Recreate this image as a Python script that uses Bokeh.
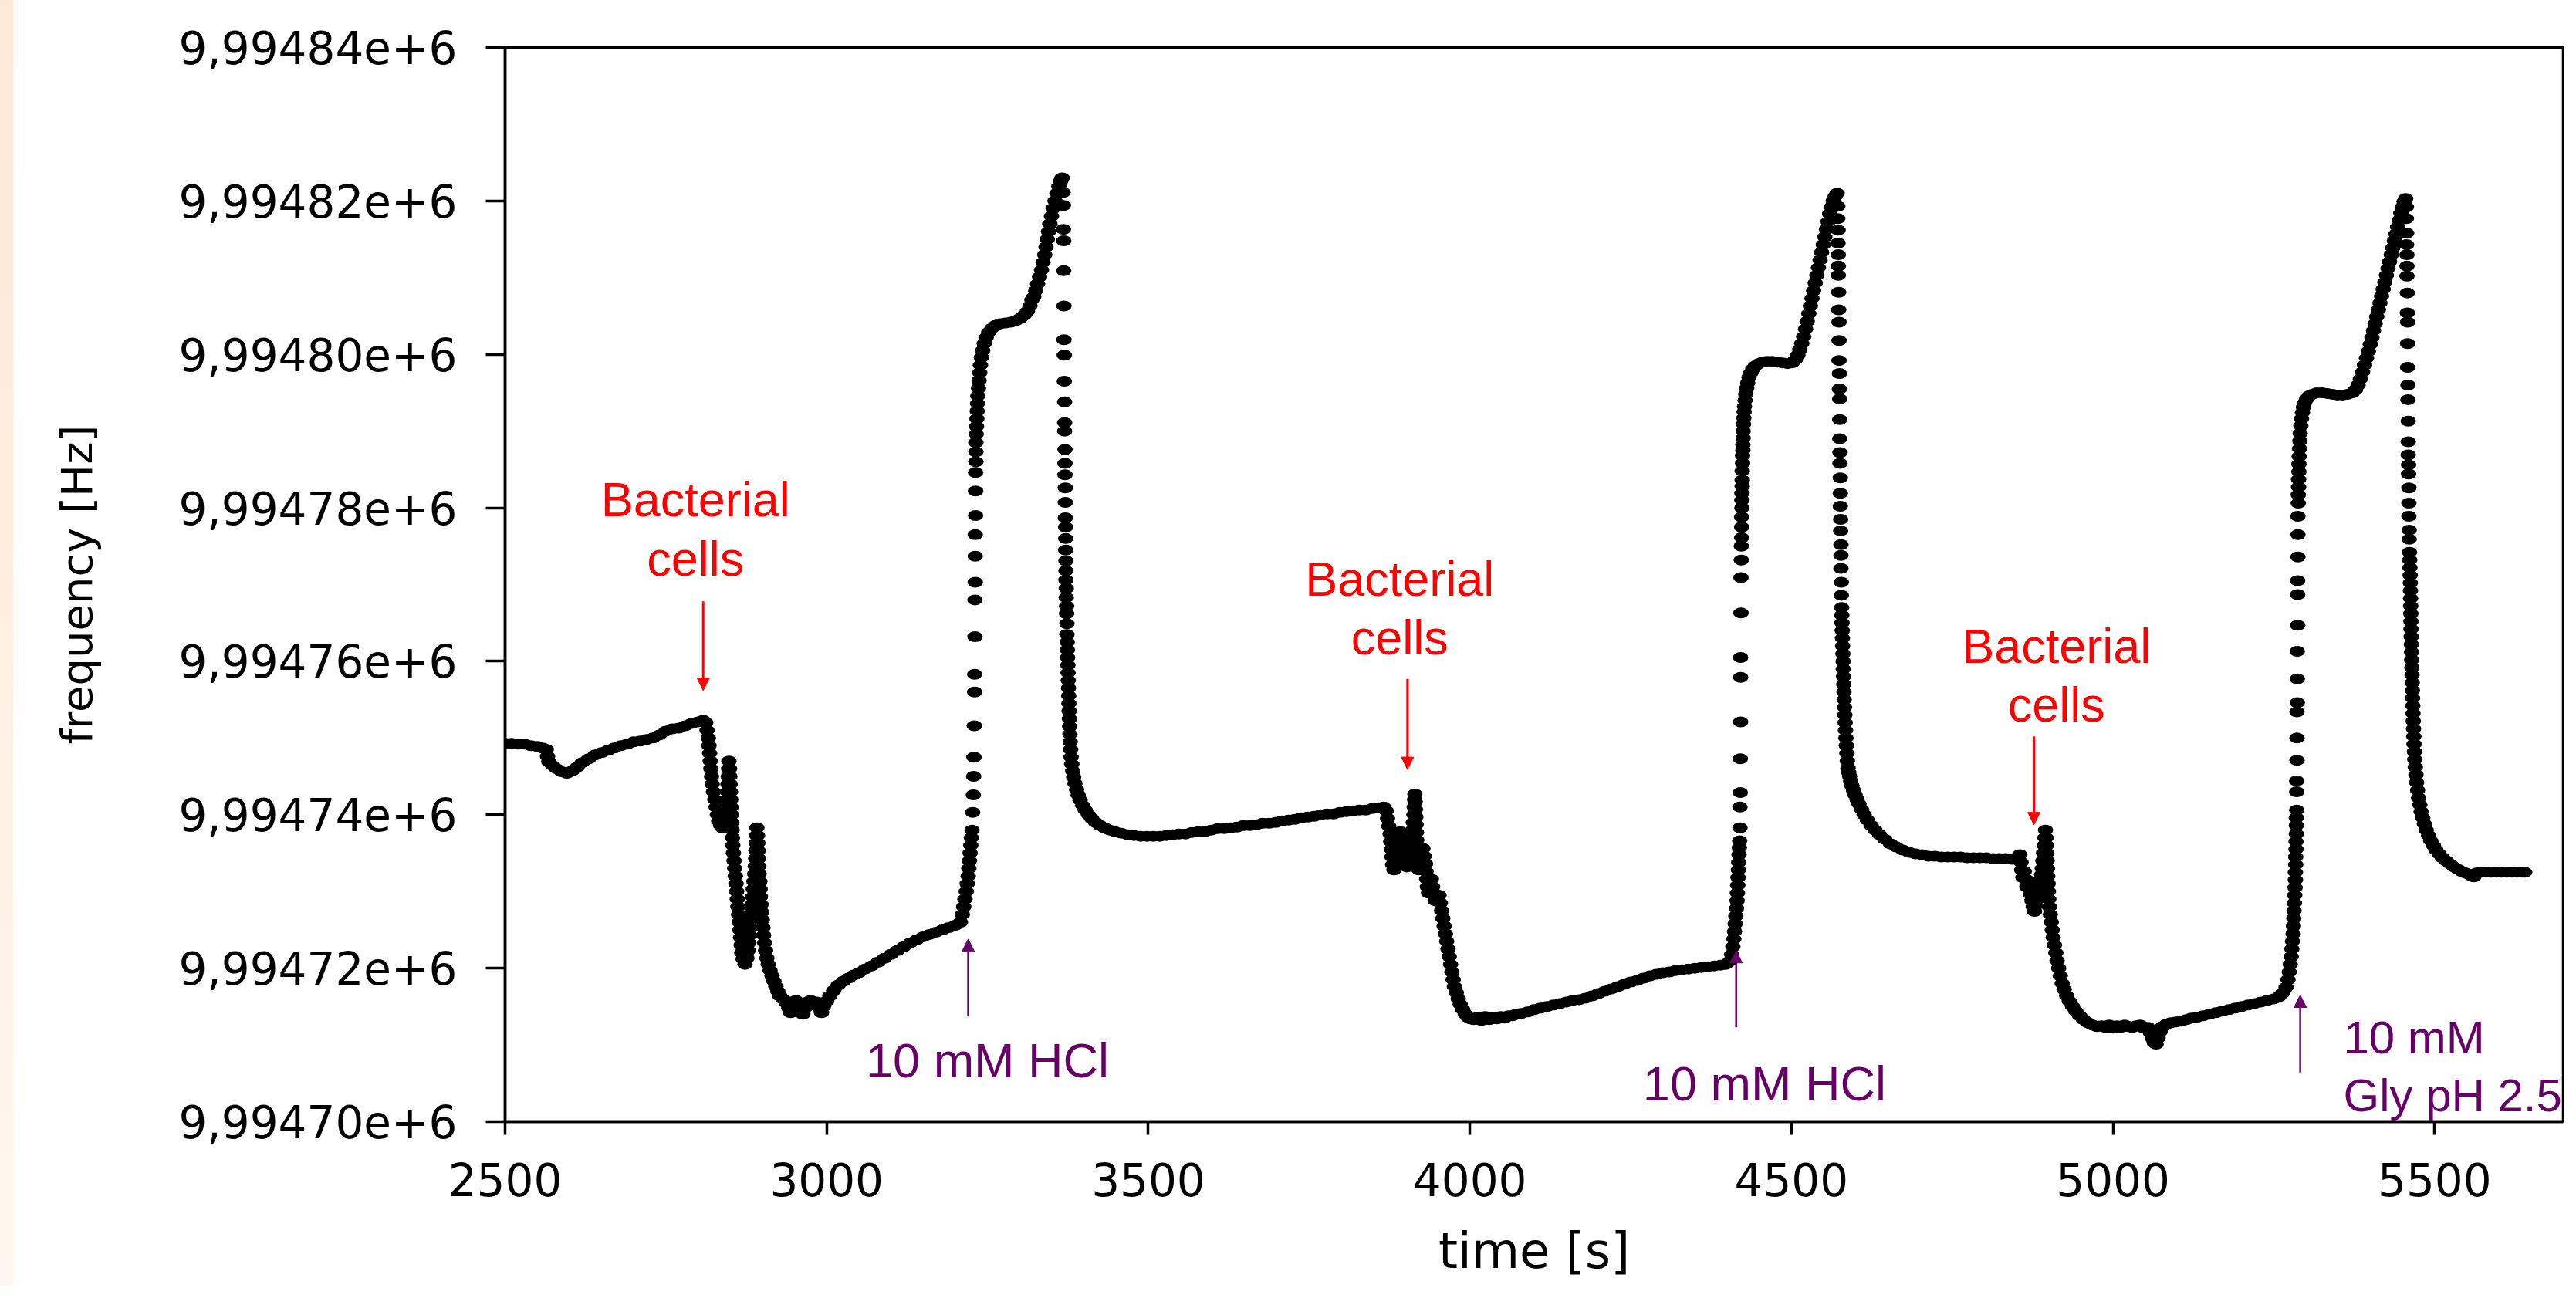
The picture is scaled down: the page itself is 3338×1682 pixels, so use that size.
from bokeh.plotting import figure
from bokeh.models import Range1d, FixedTicker, Label, Arrow, NormalHead, ColumnDataSource, Spacer
from bokeh.layouts import row
from bokeh.embed import file_html
from bokeh.resources import INLINE

# ---------------- data: time [s], frequency [Hz] ----------------
t_start = [2500, 2510, 2520, 2530, 2540, 2550, 2558, 2564, 2566, 2568, 2574, 2580, 2588, 2596, 2604, 2612,
           2620, 2630, 2640, 2650, 2660, 2670, 2680, 2690, 2700, 2710, 2720, 2730, 2740, 2750, 2760, 2770,
           2780, 2790, 2800, 2808, 2812]
f_start = [9994749.3, 9994749.3, 9994749.2, 9994749.2, 9994749.0, 9994748.9, 9994748.7, 9994748.5, 9994747.6,
           9994746.9, 9994746.4, 9994746.0, 9994745.6, 9994745.4, 9994745.7, 9994746.2, 9994746.8, 9994747.3,
           9994747.8, 9994748.1, 9994748.4, 9994748.7, 9994749.0, 9994749.2, 9994749.5, 9994749.6, 9994749.8,
           9994750.0, 9994750.4, 9994750.9, 9994751.2, 9994751.3, 9994751.6, 9994751.9, 9994752.1, 9994752.3,
           9994752.0]

t_cells_1 = [2814, 2816, 2817, 2818, 2819, 2820, 2821, 2822,
             2824, 2826, 2828, 2830, 2832, 2835, 2838,
             2841, 2843, 2844, 2845, 2846, 2846.5, 2847, 2847.5, 2848,
             2849, 2849.5, 2850, 2850.5, 2851, 2851.5, 2852, 2852.5, 2853, 2853.5, 2854,
             2855, 2856, 2857, 2858, 2859, 2860, 2861, 2862, 2863, 2864, 2865, 2866, 2867, 2868,
             2870, 2873, 2876,
             2878, 2879, 2880, 2881, 2882, 2883, 2884, 2885, 2886, 2887, 2888, 2889,
             2889.5, 2890, 2890.5, 2891, 2891.5,
             2892.5, 2893, 2893.5, 2894, 2894.5, 2895,
             2896, 2896.5, 2897,
             2898, 2899, 2900, 2901, 2902,
             2903.5, 2905, 2907, 2909, 2912, 2915, 2918, 2921, 2924]
f_cells_1 = [9994751.0, 9994750.0, 9994749.0, 9994748.0, 9994747.0, 9994746.0, 9994745.0, 9994744.0,
             9994743.0, 9994742.0, 9994741.0, 9994740.0, 9994739.2, 9994738.6, 9994738.3,
             9994739.0, 9994740.0, 9994741.0, 9994742.0, 9994743.0, 9994744.0, 9994745.0, 9994746.0, 9994747.0,
             9994746.0, 9994745.0, 9994744.0, 9994743.0, 9994742.0, 9994741.0, 9994740.0, 9994739.0, 9994738.0,
             9994737.0, 9994736.0,
             9994735.0, 9994734.0, 9994733.0, 9994732.0, 9994731.0, 9994730.0, 9994729.0, 9994728.0, 9994727.0,
             9994726.0, 9994725.0, 9994724.0, 9994723.0, 9994722.0,
             9994721.2, 9994720.5, 9994721.3,
             9994722.3, 9994723.3, 9994724.3, 9994725.3, 9994726.3, 9994727.3, 9994728.3, 9994729.3, 9994730.3,
             9994731.3, 9994732.3, 9994733.3,
             9994734.3, 9994735.3, 9994736.3, 9994737.3, 9994738.3,
             9994737.3, 9994736.3, 9994735.3, 9994734.3, 9994733.3, 9994732.3,
             9994731.3, 9994730.3, 9994729.3,
             9994728.3, 9994727.3, 9994726.3, 9994725.3, 9994724.3,
             9994723.3, 9994722.3, 9994721.3, 9994720.5, 9994719.7, 9994719.0, 9994718.3, 9994717.6, 9994717.0]

t_bound_1 = [2927, 2932, 2937, 2941, 2944, 2947, 2952, 2957, 2960, 2963, 2966, 2970, 2975, 2980, 2985, 2989,
             2992, 2995, 3000, 3005, 3011, 3018, 3026, 3034, 3042, 3050, 3060, 3070, 3080, 3090, 3100, 3110,
             3120, 3130, 3140, 3150, 3160, 3170, 3180, 3190, 3200, 3208]
f_bound_1 = [9994716.4, 9994716.0, 9994715.5, 9994714.8, 9994714.2, 9994715.0, 9994715.8, 9994715.2, 9994714.6,
             9994714.0, 9994714.8, 9994715.6, 9994715.8, 9994715.2, 9994715.6, 9994714.8, 9994714.2, 9994715.0,
             9994715.7, 9994716.4, 9994717.1, 9994717.8, 9994718.3, 9994718.7, 9994719.1, 9994719.4, 9994719.9,
             9994720.3, 9994720.8, 9994721.3, 9994721.8, 9994722.3, 9994722.8, 9994723.3, 9994723.7, 9994724.1,
             9994724.4, 9994724.7, 9994725.0, 9994725.3, 9994725.6, 9994726.0]

t_regen_1 = [3211, 3213, 3215, 3217, 3218.5, 3220, 3221, 3222, 3223, 3224, 3225, 3226,
             3227, 3228, 3228.5, 3229, 3229.5, 3230, 3230, 3230.5, 3230.5, 3231, 3231, 3231, 3231.5, 3231.5,
             3231.5, 3232, 3232, 3232, 3232.5,
             3233, 3233.5, 3234, 3234.5, 3235, 3236, 3237, 3238, 3239, 3240.5, 3242.5, 3245, 3248, 3252, 3257,
             3263, 3270, 3278, 3286, 3294, 3301, 3307, 3312, 3316, 3319,
             3322, 3325, 3328, 3331, 3334, 3336.5, 3339, 3341, 3343, 3345, 3347, 3349.5, 3352, 3355, 3358, 3361,
             3364, 3366]
f_regen_1 = [9994727.0, 9994728.0, 9994729.0, 9994730.0, 9994731.0, 9994732.0, 9994733.0, 9994734.0, 9994735.0,
             9994736.0, 9994737.0, 9994738.0,
             9994740.3, 9994742.6, 9994745.0, 9994747.5, 9994751.6, 9994756.0, 9994758.3, 9994763.2, 9994768.0,
             9994770.3, 9994773.7, 9994776.5, 9994779.0, 9994782.2, 9994784.6, 9994786.0, 9994787.3, 9994788.5,
             9994789.6,
             9994790.6, 9994791.6, 9994792.6, 9994793.6, 9994794.6, 9994795.6, 9994796.6, 9994797.6, 9994798.6,
             9994799.6, 9994800.5, 9994801.4, 9994802.2, 9994802.9, 9994803.4, 9994803.8, 9994804.0, 9994804.1,
             9994804.2, 9994804.4, 9994804.7, 9994805.1, 9994805.6, 9994806.3, 9994807.1,
             9994807.5, 9994808.3, 9994809.2, 9994810.1, 9994811.0, 9994812.0, 9994813.0, 9994814.0, 9994815.0,
             9994816.0, 9994817.0, 9994818.0, 9994819.0, 9994820.0, 9994821.0, 9994821.9, 9994822.6, 9994823.0]

t_drop_1 = [3367.5, 3368, 3368, 3368.5, 3368.5, 3369, 3369, 3369.5, 3369.5, 3370, 3370, 3370, 3370.5, 3370.5,
            3370.5, 3371, 3371, 3371, 3371.5, 3371.5, 3371.5, 3372, 3372, 3372, 3372.5, 3372.5, 3373, 3373,
            3373.5, 3373.5]
f_drop_1 = [9994821.1, 9994819.4, 9994816.3, 9994814.8, 9994810.9, 9994806.3, 9994801.9, 9994799.9, 9994796.5,
            9994793.8, 9994791.1, 9994790.0, 9994787.6, 9994785.8, 9994784.3, 9994782.6, 9994780.7, 9994778.7,
            9994777.5, 9994776.0, 9994774.5, 9994773.1, 9994771.8, 9994770.6, 9994769.5, 9994768.3, 9994767.2,
            9994766.2, 9994764.9, 9994763.5]

t_rinse_1 = [3374, 3374.3, 3374.6, 3375, 3375.3, 3375.6, 3376, 3376.3, 3376.6, 3377, 3377.4, 3377.8, 3378.2,
             3378.7, 3379.2, 3380, 3381, 3382.5, 3384, 3386, 3388.5, 3391, 3394, 3398, 3402, 3407, 3412, 3418,
             3425, 3432, 3440, 3448, 3458, 3468, 3478, 3488, 3498, 3508, 3518, 3528]
f_rinse_1 = [9994762.5, 9994761.5, 9994760.5, 9994759.5, 9994758.5, 9994757.5, 9994756.5, 9994755.5, 9994754.5,
             9994753.5, 9994752.5, 9994751.5, 9994750.5, 9994749.5, 9994748.5, 9994747.5, 9994746.6, 9994745.7,
             9994744.9, 9994744.1, 9994743.3, 9994742.6, 9994741.9, 9994741.2, 9994740.6, 9994740.0, 9994739.5,
             9994739.0, 9994738.6, 9994738.3, 9994738.0, 9994737.8, 9994737.6, 9994737.4, 9994737.3, 9994737.2,
             9994737.2, 9994737.2, 9994737.2, 9994737.3]

t_base_2 = [3538, 3548, 3558, 3568, 3578, 3588, 3598, 3608, 3618, 3628, 3638, 3648, 3658, 3668, 3678, 3688,
            3698, 3708, 3718, 3728, 3738, 3748, 3758, 3768, 3778, 3788, 3798, 3808, 3818, 3828, 3838, 3848,
            3858, 3866]
f_base_2 = [9994737.4, 9994737.5, 9994737.5, 9994737.7, 9994737.8, 9994737.8, 9994738.0, 9994738.2, 9994738.2,
            9994738.3, 9994738.4, 9994738.6, 9994738.6, 9994738.7, 9994738.9, 9994738.9, 9994739.0, 9994739.2,
            9994739.3, 9994739.4, 9994739.6, 9994739.7, 9994739.8, 9994740.0, 9994740.1, 9994740.1, 9994740.3,
            9994740.4, 9994740.5, 9994740.6, 9994740.6, 9994740.8, 9994740.9, 9994741.0]

t_cells_2 = [3870, 3872, 3874, 3876, 3877, 3878, 3879, 3880,
             3882, 3884, 3886, 3888, 3890, 3892, 3894, 3896, 3898, 3900, 3902,
             3905, 3907, 3909, 3910, 3911, 3912, 3913, 3913.5, 3914, 3914.5,
             3915, 3915.5, 3916, 3916.5, 3917, 3917.5, 3918, 3919, 3920, 3921,
             3923, 3925, 3927, 3929, 3931, 3932, 3933, 3934,
             3936, 3938, 3940, 3942, 3944, 3946, 3948, 3950,
             3952, 3954, 3956, 3958, 3960, 3962, 3964, 3966, 3968, 3970,
             3972, 3974, 3976, 3979, 3982, 3985, 3989, 3993, 3997, 4001]
f_cells_2 = [9994740.5, 9994739.5, 9994738.5, 9994737.5, 9994736.5, 9994735.5, 9994734.5, 9994733.5,
             9994732.8, 9994733.8, 9994734.8, 9994735.8, 9994736.8, 9994737.8, 9994736.8, 9994735.8, 9994734.8,
             9994733.8, 9994733.2,
             9994734.0, 9994735.0, 9994736.0, 9994737.0, 9994738.0, 9994739.0, 9994740.0, 9994741.0, 9994742.0,
             9994742.7,
             9994741.7, 9994740.7, 9994739.7, 9994738.7, 9994737.7, 9994736.7, 9994735.7, 9994734.7, 9994733.7,
             9994732.8,
             9994733.8, 9994734.8, 9994735.6, 9994734.6, 9994733.6, 9994732.6, 9994731.6, 9994730.6,
             9994729.8, 9994730.8, 9994731.6, 9994730.6, 9994729.6, 9994728.8, 9994729.6, 9994728.8,
             9994729.5, 9994728.5, 9994727.5, 9994726.5, 9994725.5, 9994724.5, 9994723.5, 9994722.5, 9994721.5,
             9994720.5,
             9994719.5, 9994718.5, 9994717.6, 9994716.8, 9994716.0, 9994715.3, 9994714.6, 9994714.0, 9994713.6,
             9994713.4]

t_bound_2 = [4006, 4012, 4018, 4024, 4030, 4036, 4042, 4048, 4054, 4060, 4066, 4072, 4080, 4090, 4100, 4110,
             4120, 4130, 4140, 4150, 4160, 4170, 4180, 4190, 4200, 4210, 4220, 4230, 4240, 4250, 4260, 4270,
             4280, 4290, 4300, 4310, 4320, 4330, 4340, 4350, 4360, 4370, 4380, 4390, 4398, 4404]
f_bound_2 = [9994713.3, 9994713.6, 9994713.2, 9994713.7, 9994713.3, 9994713.6, 9994713.4, 9994713.7, 9994713.5,
             9994713.8, 9994713.8, 9994714.0, 9994714.1, 9994714.3, 9994714.6, 9994714.8, 9994715.0, 9994715.2,
             9994715.4, 9994715.6, 9994715.8, 9994715.9, 9994716.1, 9994716.4, 9994716.7, 9994717.0, 9994717.3,
             9994717.6, 9994717.9, 9994718.2, 9994718.4, 9994718.7, 9994719.0, 9994719.2, 9994719.4, 9994719.5,
             9994719.7, 9994719.8, 9994719.9, 9994720.0, 9994720.1, 9994720.2, 9994720.3, 9994720.4, 9994720.5,
             9994720.9]

t_regen_2 = [4407, 4409, 4410.5, 4411.5, 4412.5, 4413.5, 4414.5, 4415.5, 4416, 4416.5, 4417, 4417.5, 4418,
             4418.5, 4419,
             4419.5, 4420, 4420, 4420.5, 4420.5, 4421, 4421, 4421, 4421.5, 4421.5,
             4422, 4422, 4422.5, 4422.5, 4422.5, 4423, 4423, 4423, 4423.5, 4423.5, 4423.5, 4424, 4424, 4424.5,
             4424.5, 4425, 4425, 4425.5, 4426, 4426.5, 4427, 4428, 4429, 4430.5, 4432, 4434, 4437, 4440, 4444,
             4449, 4455, 4462, 4470, 4478, 4486, 4494, 4501, 4506, 4510, 4513, 4516, 4519,
             4522, 4524.5, 4527, 4529.5, 4532, 4534.5, 4537, 4539.5, 4542, 4544.5, 4547, 4549.5, 4552, 4554.5,
             4557, 4559.5, 4562, 4565, 4568, 4571]
f_regen_2 = [9994721.8, 9994722.8, 9994723.8, 9994724.8, 9994725.8, 9994726.8, 9994727.8, 9994728.8, 9994729.8,
             9994730.8, 9994731.8, 9994732.8, 9994733.8, 9994734.8, 9994735.7,
             9994736.6, 9994738.3, 9994741.0, 9994742.9, 9994747.3, 9994752.1, 9994757.9, 9994760.5, 9994766.3,
             9994770.9,
             9994773.2, 9994775.0, 9994776.1, 9994777.5, 9994778.8, 9994780.0, 9994781.0, 9994781.9, 9994782.8,
             9994783.6, 9994784.8, 9994785.8, 9994786.8, 9994787.5, 9994788.2, 9994789.1, 9994790.0, 9994790.9,
             9994791.7, 9994792.5, 9994793.2, 9994794.0, 9994794.8, 9994795.6, 9994796.3, 9994797.0, 9994797.6,
             9994798.1, 9994798.5, 9994798.8, 9994799.0, 9994799.1, 9994799.1, 9994799.0, 9994798.9, 9994798.8,
             9994798.9, 9994799.3, 9994799.9, 9994800.6, 9994801.4, 9994802.3,
             9994803.3, 9994804.3, 9994805.3, 9994806.3, 9994807.3, 9994808.3, 9994809.3, 9994810.3, 9994811.3,
             9994812.3, 9994813.3, 9994814.3, 9994815.3, 9994816.3, 9994817.3, 9994818.3, 9994819.2, 9994820.0,
             9994820.6, 9994821.0]

t_drop_2 = [4572, 4572, 4572.5, 4572.5, 4573, 4573, 4573, 4573.5, 4573.5, 4574, 4574, 4574, 4574.5, 4574.5,
            4575, 4575, 4575, 4575.5, 4575.5, 4576, 4576, 4576, 4576.5, 4576.5, 4577, 4577, 4577, 4577.5,
            4577.5, 4578]
f_drop_2 = [9994819.3, 9994817.7, 9994816.2, 9994814.5, 9994813.0, 9994811.5, 9994810.3, 9994808.1, 9994805.8,
            9994804.2, 9994801.8, 9994799.2, 9994797.5, 9994795.5, 9994794.2, 9994791.5, 9994789.0, 9994787.2,
            9994785.8, 9994783.9, 9994781.9, 9994780.2, 9994778.5, 9994777.0, 9994775.2, 9994773.8, 9994772.1,
            9994770.3, 9994768.6, 9994767.0]

t_rinse_2 = [4578.3, 4578.6, 4579, 4579.3, 4579.6, 4580, 4580.3, 4580.6, 4581, 4581.3, 4581.7, 4582, 4582.5,
             4583, 4583.5, 4584, 4584.7, 4585.4, 4586.2, 4587, 4588, 4589.2, 4590.5, 4592, 4594, 4596.5, 4599,
             4602, 4605, 4609, 4613, 4618, 4624, 4630, 4637, 4645, 4654, 4663, 4673, 4683, 4693, 4703, 4713,
             4723, 4733, 4743, 4753, 4763, 4773, 4783, 4793, 4803, 4813, 4823, 4833, 4843, 4851]
f_rinse_2 = [9994766.0, 9994765.0, 9994764.0, 9994763.0, 9994762.0, 9994761.0, 9994760.0, 9994759.0, 9994758.0,
             9994757.0, 9994756.0, 9994755.0, 9994754.0, 9994753.0, 9994752.0, 9994751.0, 9994750.0, 9994749.0,
             9994748.0, 9994747.0, 9994746.1, 9994745.5, 9994745.0, 9994744.4, 9994743.8, 9994743.2, 9994742.6,
             9994742.0, 9994741.4, 9994740.7, 9994740.0, 9994739.3, 9994738.6, 9994738.0, 9994737.4, 9994736.8,
             9994736.2, 9994735.8, 9994735.4, 9994735.1, 9994734.9, 9994734.8, 9994734.6, 9994734.6, 9994734.5,
             9994734.5, 9994734.5, 9994734.5, 9994734.4, 9994734.4, 9994734.4, 9994734.4, 9994734.3, 9994734.3,
             9994734.3, 9994734.2, 9994734.2]

t_cells_3 = [4855, 4857, 4858, 4860, 4862, 4864, 4866, 4868, 4870, 4872, 4874, 4876, 4878, 4880, 4882, 4884,
             4886, 4887.5, 4889, 4890, 4891, 4892, 4893, 4894, 4895, 4896, 4896.5, 4897, 4897.5, 4898, 4898.5,
             4899, 4899.5, 4900, 4901, 4902.5, 4904, 4905.5, 4907, 4909, 4911, 4913, 4915.5, 4918, 4921, 4924,
             4928, 4932, 4937, 4942, 4948, 4954, 4961, 4968, 4975]
f_cells_3 = [9994734.8, 9994733.8, 9994732.8, 9994731.8, 9994732.6, 9994731.6, 9994730.6, 9994731.4, 9994730.4,
             9994729.6, 9994728.8, 9994728.0, 9994727.4, 9994728.2, 9994729.0, 9994729.8, 9994730.6, 9994731.4,
             9994732.2, 9994733.0, 9994734.0, 9994735.0, 9994736.0, 9994737.0, 9994738.0, 9994737.0, 9994736.0,
             9994735.0, 9994734.0, 9994733.0, 9994732.0, 9994731.0, 9994730.0, 9994729.0, 9994728.0, 9994727.0,
             9994726.0, 9994725.0, 9994724.0, 9994723.0, 9994722.0, 9994721.0, 9994720.0, 9994719.0, 9994718.0,
             9994717.2, 9994716.4, 9994715.7, 9994715.0, 9994714.4, 9994713.8, 9994713.3, 9994712.9, 9994712.6,
             9994712.4]

t_bound_3 = [4982, 4988, 4994, 5000, 5006, 5012, 5018, 5024, 5030, 5036, 5042, 5048, 5054, 5058, 5061, 5064,
             5067, 5070, 5073, 5077, 5083, 5090, 5098, 5106, 5114, 5122, 5130, 5140, 5150, 5160, 5170, 5180,
             5190, 5200, 5210, 5220, 5230, 5240, 5250, 5258, 5264, 5269]
f_bound_3 = [9994712.5, 9994712.3, 9994712.6, 9994712.2, 9994712.5, 9994712.3, 9994712.6, 9994712.4, 9994712.3,
             9994712.5, 9994712.6, 9994712.2, 9994712.3, 9994711.6, 9994710.9, 9994710.3, 9994710.1, 9994710.9,
             9994711.7, 9994712.4, 9994712.7, 9994712.9, 9994713.0, 9994713.1, 9994713.3, 9994713.5, 9994713.6,
             9994713.8, 9994714.0, 9994714.2, 9994714.4, 9994714.6, 9994714.8, 9994715.0, 9994715.2, 9994715.4,
             9994715.6, 9994715.8, 9994716.0, 9994716.3, 9994716.8, 9994717.5]

t_regen_3 = [5272, 5274, 5275.5, 5277, 5278, 5279, 5280, 5280.5, 5281, 5281.5, 5282, 5282.5, 5283, 5283.5,
             5283.5, 5284, 5284, 5284.5, 5284.5, 5285, 5285, 5285, 5285.5,
             5285.5, 5285.5, 5286, 5286, 5286, 5286.5, 5286.5, 5286.5, 5287, 5287, 5287, 5287.5, 5287.5, 5287.5,
             5288,
             5288, 5288.5, 5288.5, 5289, 5289, 5289.5, 5290, 5290.5, 5291, 5292, 5293, 5294.5, 5296, 5298, 5301,
             5305, 5310, 5317, 5325, 5333, 5341, 5349, 5357, 5365, 5372, 5377, 5381, 5384.5, 5388, 5391, 5394,
             5397, 5400, 5402.5, 5405, 5407.5, 5410, 5412.5, 5415, 5417.5, 5420, 5422.5, 5425, 5427.5, 5430,
             5432.5, 5435, 5437.5, 5440, 5442.5, 5445, 5447.5, 5450, 5452.5, 5455]
f_regen_3 = [9994718.5, 9994719.5, 9994720.5, 9994721.5, 9994722.5, 9994723.5, 9994724.5, 9994725.5, 9994726.5,
             9994727.5, 9994728.5, 9994729.5, 9994730.5, 9994731.5, 9994732.5, 9994733.5, 9994734.5, 9994735.5,
             9994736.5, 9994737.5, 9994738.6, 9994739.6, 9994740.6,
             9994743.0, 9994744.4, 9994747.1, 9994750.0, 9994753.4, 9994754.6, 9994757.7, 9994761.3, 9994764.7,
             9994768.7, 9994770.5, 9994773.6, 9994776.5, 9994778.9, 9994780.6,
             9994781.7, 9994782.7, 9994783.7, 9994784.7, 9994785.7, 9994786.7, 9994787.7, 9994788.7, 9994789.7,
             9994790.7, 9994791.6, 9994792.4, 9994793.1, 9994793.7, 9994794.2, 9994794.6, 9994794.8, 9994795.0,
             9994795.0, 9994794.9, 9994794.8, 9994794.7, 9994794.7, 9994794.8, 9994795.0, 9994795.4, 9994796.0,
             9994796.8, 9994797.7, 9994798.6, 9994799.5, 9994800.4, 9994801.3, 9994802.2, 9994803.1, 9994804.0,
             9994804.9, 9994805.8, 9994806.7, 9994807.6, 9994808.5, 9994809.4, 9994810.3, 9994811.2, 9994812.1,
             9994813.0, 9994813.9, 9994814.8, 9994815.7, 9994816.6, 9994817.5, 9994818.4, 9994819.2, 9994819.9,
             9994820.3]

t_drop_3 = [5456, 5456, 5456.5, 5456.5, 5457, 5457, 5457, 5457.5, 5457.5, 5458, 5458, 5458, 5458.5, 5458.5,
            5459, 5459, 5459, 5459.5, 5459.5, 5460, 5460, 5460, 5460.5, 5460.5, 5461]
f_drop_3 = [9994819.2, 9994817.7, 9994815.8, 9994814.3, 9994813.0, 9994811.5, 9994810.2, 9994808.0, 9994805.4,
            9994804.2, 9994801.4, 9994798.3, 9994796.0, 9994794.1, 9994791.3, 9994788.6, 9994786.9, 9994785.6,
            9994784.4, 9994782.6, 9994780.6, 9994778.9, 9994777.1, 9994775.9, 9994774.2]

t_rinse_3 = [5461.3, 5461.6, 5462, 5462.2, 5462.4, 5462.6, 5462.8, 5463, 5463.2, 5463.4,
             5463.6, 5463.8, 5464, 5464.3, 5464.6, 5464.9, 5465.2, 5465.5, 5465.8, 5466.1,
             5466.4, 5466.8, 5467.2, 5467.6, 5468, 5468.6, 5469.2, 5470, 5471, 5472,
             5473.5, 5475, 5477, 5479, 5481.5, 5484, 5487, 5490.5, 5494, 5498,
             5502, 5507, 5512, 5518, 5524, 5530, 5536, 5542, 5548, 5554,
             5558, 5561, 5565, 5572, 5580, 5588, 5596, 5604, 5612, 5620,
             5628, 5636, 5640]
f_rinse_3 = [9994773.2, 9994772.2, 9994771.2, 9994770.2, 9994769.2, 9994768.2, 9994767.2, 9994766.2, 9994765.2,
             9994764.2, 9994763.2, 9994762.2, 9994761.2, 9994760.2, 9994759.2, 9994758.2, 9994757.2, 9994756.2,
             9994755.2, 9994754.2, 9994753.2, 9994752.2, 9994751.2, 9994750.2, 9994749.2, 9994748.2, 9994747.2,
             9994746.2, 9994745.2, 9994744.2, 9994743.2, 9994742.2, 9994741.3, 9994740.4, 9994739.6, 9994738.8,
             9994738.0, 9994737.3, 9994736.6, 9994736.0, 9994735.4, 9994734.9, 9994734.4, 9994734.0, 9994733.6,
             9994733.2, 9994732.9, 9994732.6, 9994732.4, 9994732.2, 9994732.0, 9994731.9, 9994732.4, 9994732.5,
             9994732.5, 9994732.5, 9994732.5, 9994732.5, 9994732.5, 9994732.5, 9994732.5, 9994732.5, 9994732.5]

x_ticks = [2500, 3000, 3500, 4000, 4500, 5000, 5500]
y_ticks = [9994700, 9994720, 9994740, 9994760, 9994780, 9994800, 9994820, 9994840]
y_tick_labels = ["9,99470e+6", "9,99472e+6", "9,99474e+6", "9,99476e+6",
                 "9,99478e+6", "9,99480e+6", "9,99482e+6", "9,99484e+6"]

# ---------------- assemble ----------------
segments = [(t_start, f_start), (t_cells_1, f_cells_1), (t_bound_1, f_bound_1), (t_regen_1, f_regen_1),
            (t_drop_1, f_drop_1), (t_rinse_1, f_rinse_1), (t_base_2, f_base_2), (t_cells_2, f_cells_2),
            (t_bound_2, f_bound_2), (t_regen_2, f_regen_2), (t_drop_2, f_drop_2), (t_rinse_2, f_rinse_2),
            (t_cells_3, f_cells_3), (t_bound_3, f_bound_3), (t_regen_3, f_regen_3), (t_drop_3, f_drop_3),
            (t_rinse_3, f_rinse_3)]
time_s, freq_hz = [], []
for ts, fs in segments:
    assert len(ts) == len(fs), (len(ts), len(fs), ts[0])
    time_s += ts
    freq_hz += fs
src = ColumnDataSource(dict(time=time_s, freq=freq_hz))

W, H = 3305, 1666
p = figure(width=W, height=H, x_range=Range1d(2500, 5700), y_range=Range1d(9994700, 9994840),
           output_backend="svg", toolbar_location=None,
           min_border_left=637, min_border_right=1, min_border_top=61, min_border_bottom=H - 1453)
p.background_fill_color = "white"
p.border_fill_color = "white"
p.grid.visible = False
p.outline_line_color = "black"
p.outline_line_width = 3.5

p.ellipse(x="time", y="freq", width=20, height=14, width_units="screen", height_units="screen",
          source=src, fill_color="black", line_color=None)

for ax in (p.xaxis[0], p.yaxis[0]):
    ax.axis_line_width = 3.5
    ax.axis_line_color = "black"
    ax.major_tick_line_width = 3.5
    ax.major_tick_line_color = "black"
    ax.major_tick_in = 0
    ax.minor_tick_line_color = None
    ax.major_label_text_font = "DejaVu Sans"
    ax.major_label_text_font_size = "58px"
    ax.major_label_text_color = "black"
    ax.axis_label_text_font = "DejaVu Sans"
    ax.axis_label_text_font_style = "normal"
    ax.axis_label_text_color = "black"

p.xaxis.ticker = FixedTicker(ticks=x_ticks)
p.xaxis.major_label_overrides = {t: str(t) for t in x_ticks}
p.xaxis.major_tick_out = 17
p.xaxis.major_label_standoff = 36
p.xaxis.axis_label = "time [s]"
p.xaxis.axis_label_text_font_size = "64px"
p.xaxis.axis_label_standoff = 31

p.yaxis.ticker = FixedTicker(ticks=y_ticks)
p.yaxis.major_label_overrides = {t: s for t, s in zip(y_ticks, y_tick_labels)}
p.yaxis.major_tick_out = 25
p.yaxis.major_label_standoff = 37
p.yaxis.axis_label = "frequency [Hz]"
p.yaxis.axis_label_text_font_size = "56px"
p.yaxis.axis_label_standoff = 96

# ---------------- annotations ----------------
RED = "#FF0000"
PURPLE = "#660066"
ANN_FONT = "Liberation Sans"

cell_notes = [  # (text centre x, baseline line 1, baseline line 2, arrow x, arrow top, arrow tip)
    (2796, 9994781.1, 9994773.4, 2808, 9994767.8, 9994756.2),
    (3891, 9994770.8, 9994763.1, 3903, 9994757.7, 9994745.9),
    (4912, 9994762.0, 9994754.4, 4877, 9994750.2, 9994738.7),
]
for cx, b1, b2, ax_, top, tip in cell_notes:
    for txt, yb in (("Bacterial", b1), ("cells", b2)):
        p.add_layout(Label(x=cx, y=yb, text=txt, text_align="center", text_baseline="alphabetic",
                           text_color=RED, text_font=ANN_FONT, text_font_size="63px"))
    p.add_layout(Arrow(x_start=ax_, y_start=top, x_end=ax_, y_end=tip, line_color=RED, line_width=3,
                       end=NormalHead(size=16, fill_color=RED, line_color=RED, line_width=1)))

acid_arrows = [(3220, 9994713.7, 9994723.8), (4414, 9994712.3, 9994722.3), (5291, 9994706.4, 9994716.5)]
for ax_, bottom, tip in acid_arrows:
    p.add_layout(Arrow(x_start=ax_, y_start=bottom, x_end=ax_, y_end=tip, line_color=PURPLE, line_width=2.5,
                       end=NormalHead(size=16, fill_color=PURPLE, line_color=PURPLE, line_width=1)))

acid_texts = [  # (x, baseline, text, align, size)
    (3250, 9994708.0, "10 mM HCl", "center", "63px"),
    (4458, 9994705.0, "10 mM HCl", "center", "63px"),
    (5358, 9994711.0, "10 mM", "left", "60px"),
    (5358, 9994703.4, "Gly pH 2.5", "left", "60px"),
]
for x, yb, txt, al, fs in acid_texts:
    p.add_layout(Label(x=x, y=yb, text=txt, text_align=al, text_baseline="alphabetic",
                       text_color=PURPLE, text_font=ANN_FONT, text_font_size=fs))

strip = Spacer(width=17, height=H, styles={"background": "linear-gradient(to bottom, #FCE8D6, #FFF7EF)"})
layout = row(strip, p)

open("out.html", "w").write(file_html(layout, INLINE))
